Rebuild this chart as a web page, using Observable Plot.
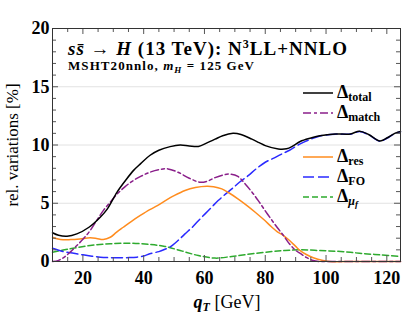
<!DOCTYPE html>
<html><head><meta charset="utf-8">
<script src="https://cdn.jsdelivr.net/npm/d3@7"></script>
<script src="https://cdn.jsdelivr.net/npm/@observablehq/plot@0.6"></script>
<style>body{margin:0;background:#fff} svg{display:block}</style>
</head><body><div id="chart"></div>
<script>
// ---- data ----
const qTotal = [10, 12, 14.8, 18, 22, 25.7, 28, 31.2, 34, 36.6, 39, 42, 45, 48.7, 52, 55, 58, 61, 63.5, 66, 69.4, 72, 75.6, 78, 80, 84.3, 87, 89, 91.5, 95, 98, 103, 108, 111, 114, 117.7, 120, 122.6, 124.5];
const total  = [2.47, 2.25, 2.17, 2.37, 2.94, 3.8, 4.5, 5.94, 6.95, 7.8, 8.4, 9.1, 9.55, 9.86, 10.0, 9.92, 9.88, 10.2, 10.5, 10.8, 11.0, 10.9, 10.5, 10.2, 9.95, 9.66, 9.68, 9.9, 10.3, 10.6, 10.8, 10.95, 10.95, 11.18, 10.9, 10.35, 10.6, 11.0, 11.15];

const qMatch = [10, 12, 14, 16, 18, 20, 22.4, 24.5, 26.7, 29, 31.3, 34, 36.6, 39, 42, 45, 48, 51.3, 55, 58.6, 61, 63.5, 66, 68.5, 71, 73.4, 75.5, 77.7, 80, 82.3, 84, 86, 88, 90, 91.5, 93.5, 95.8, 98, 100, 110, 124.5];
const match  = [0, 0.1, 0.4, 0.85, 1.37, 1.9, 2.66, 3.5, 4.37, 5.1, 5.8, 6.45, 6.95, 7.3, 7.66, 7.88, 7.95, 7.66, 7.15, 6.8, 6.9, 7.2, 7.42, 7.5, 7.3, 6.66, 6.0, 5.23, 4.35, 3.5, 2.9, 2.23, 1.5, 0.95, 0.7, 0.35, 0.08, 0, 0, 0, 0];

const qRes = [10, 11.5, 13.5, 16, 19, 22.4, 24.5, 26.7, 29, 31, 33.3, 36, 38.9, 42, 44.5, 47, 50, 53.6, 57, 60.8, 63, 65.7, 68, 71, 74, 76.7, 79.5, 82.2, 84, 86, 88, 90, 91.5, 93.5, 95.8, 99, 101, 110, 124.5];
const res  = [2.08, 1.95, 1.86, 1.88, 1.94, 2.03, 1.98, 1.89, 2.08, 2.5, 2.94, 3.45, 3.95, 4.45, 4.8, 5.2, 5.65, 6.1, 6.35, 6.46, 6.42, 6.23, 5.9, 5.38, 4.8, 4.23, 3.6, 2.94, 2.55, 2.23, 1.8, 1.3, 0.94, 0.6, 0.32, 0.08, 0, 0, 0];

const qFO = [10, 13.5, 17, 20, 23, 25.7, 28.5, 31.3, 34.5, 37.8, 40, 42, 45, 47, 48.7, 51.3, 53.5, 56, 58, 60.2, 62.5, 64.5, 67, 69, 71.5, 74.4, 77, 80, 83, 86, 88, 91.5, 95, 98, 103, 108, 111, 114, 117.7, 120, 122.6, 124.5];
const fo  = [1.14, 0.86, 0.7, 0.57, 0.45, 0.37, 0.33, 0.32, 0.33, 0.37, 0.48, 0.66, 0.85, 1.05, 1.25, 1.8, 2.35, 2.94, 3.5, 4.09, 4.7, 5.23, 5.8, 6.23, 6.8, 7.37, 7.95, 8.52, 8.9, 9.3, 9.55, 10.1, 10.5, 10.78, 10.93, 10.93, 11.15, 10.88, 10.33, 10.58, 10.98, 11.13];

const qMuF = [10, 15.8, 22.4, 29, 35.6, 42, 47, 52.7, 58, 63.5, 69, 75.7, 82.3, 86.5, 91.5, 98, 104.8, 111, 117.7, 124.5];
const muf  = [0.8, 1.09, 1.37, 1.52, 1.57, 1.46, 1.29, 0.89, 0.51, 0.29, 0.43, 0.66, 0.86, 0.94, 1.0, 0.94, 0.86, 0.71, 0.57, 0.43];

const xTickLabels = [20, 40, 60, 80, 100, 120];
const yTickLabels = [0, 5, 10, 15, 20];

// ---- styling ----
const series = [
  {key: "total", q: qTotal, v: total, color: "#000000", dash: null, sub: "total"},
  {key: "match", q: qMatch, v: match, color: "#8a1f8a", dash: "8,3,3,3", sub: "match"},
  {key: "res",   q: qRes,   v: res,   color: "#ff8c1e", dash: null, sub: "res"},
  {key: "FO",    q: qFO,    v: fo,    color: "#2a2aff", dash: "11,4", sub: "FO"},
  {key: "muf",   q: qMuF,   v: muf,   color: "#2eaa2e", dash: "6,3", sub: "mu"}
];
const drawOrder = ["muf", "FO", "res", "match", "total"];

const W = 407, H = 318, ML = 52, MR = 7, MT = 28, MB = 57;
const plotH = H - MT - MB, plotW = W - ML - MR;
const xMinor = d3.range(10, 125, 5).filter(d => !xTickLabels.includes(d));
const yMinor = d3.range(0, 21, 1).filter(d => !yTickLabels.includes(d));
const serif = "'Liberation Serif', serif";

const lineMarks = drawOrder.map(k => {
  const s = series.find(d => d.key === k);
  const rows = s.q.map((q, i) => ({q, v: s.v[i]}));
  return Plot.line(rows, {x: "q", y: "v", stroke: s.color, strokeWidth: 1.5,
    strokeDasharray: s.dash, curve: "catmull-rom"});
});

const tickStroke = "#555";
const plot = Plot.plot({
  width: W, height: H,
  marginLeft: ML, marginRight: MR, marginTop: MT, marginBottom: MB,
  x: {domain: [10, 124.5]},
  y: {domain: [0, 20]},
  style: {fontFamily: serif, background: "white", color: "#000"},
  marks: [
    Plot.ruleY([5, 10, 15], {stroke: "#e2e2e2", strokeWidth: 1}),
    ...lineMarks,
    Plot.tickX(xTickLabels, {x: d => d, insetTop: plotH - 6, stroke: tickStroke}),
    Plot.tickX(xTickLabels, {x: d => d, insetBottom: plotH - 6, stroke: tickStroke}),
    Plot.tickX(xMinor, {x: d => d, insetTop: plotH - 4, stroke: tickStroke}),
    Plot.tickX(xMinor, {x: d => d, insetBottom: plotH - 4, stroke: tickStroke}),
    Plot.tickY(yTickLabels, {y: d => d, insetRight: plotW - 6, stroke: tickStroke}),
    Plot.tickY(yTickLabels, {y: d => d, insetLeft: plotW - 6, stroke: tickStroke}),
    Plot.tickY(yMinor, {y: d => d, insetRight: plotW - 4, stroke: tickStroke}),
    Plot.tickY(yMinor, {y: d => d, insetLeft: plotW - 4, stroke: tickStroke}),
    Plot.axisX(xTickLabels, {tickSize: 0, tickPadding: 10, fontSize: 18, fontWeight: "bold", fontFamily: serif, label: null}),
    Plot.axisY(yTickLabels, {tickSize: 0, tickPadding: 3, fontSize: 18, fontWeight: "bold", fontFamily: serif, label: null}),
    Plot.frame({stroke: "#333", strokeWidth: 1})
  ]
});
document.getElementById("chart").appendChild(plot);

// ---- texts and legend ----
const svg = d3.select(plot);
const g = svg.append("g").attr("font-family", serif).attr("fill", "#000").attr("text-anchor", "start");

// title
const t = g.append("text").attr("x", 68).attr("y", 55).attr("font-size", 19).attr("font-weight", "bold")
  .attr("textLength", 279).attr("lengthAdjust", "spacing");
t.append("tspan").attr("font-style", "italic").text("ss\u0304");
t.append("tspan").text(" \u2192 ");
t.append("tspan").attr("font-style", "italic").text("H");
t.append("tspan").text(" (13 TeV): N");
t.append("tspan").attr("font-size", 12).attr("dy", -7).text("3");
t.append("tspan").attr("dy", 7).text("LL+NNLO");

// subtitle
const st = g.append("text").attr("x", 68).attr("y", 70).attr("font-size", 13).attr("font-weight", "bold")
  .attr("textLength", 186).attr("lengthAdjust", "spacing");
st.append("tspan").text("MSHT20nnlo, ");
st.append("tspan").attr("font-style", "italic").text("m");
st.append("tspan").attr("font-style", "italic").attr("font-size", 9).attr("dy", 2.5).text("H");
st.append("tspan").attr("dy", -2.5).text(" = 125 GeV");

// x label
const xl = g.append("text").attr("x", 227).attr("y", 308).attr("font-size", 18).attr("text-anchor", "middle");
xl.append("tspan").attr("font-style", "italic").attr("font-weight", "bold").text("q");
xl.append("tspan").attr("font-style", "italic").attr("font-weight", "bold").attr("font-size", 12).attr("dy", 3).text("T");
xl.append("tspan").attr("dy", -3).text(" [GeV]");

// y label
g.append("text").attr("transform", "translate(18,145) rotate(-90)").attr("font-size", 17)
  .attr("text-anchor", "middle").text("rel. variations [%]");

// legend
const legendY = {total: 93, match: 113, res: 157, FO: 177, muf: 197};
series.forEach(s => {
  const y = legendY[s.key];
  g.append("line").attr("x1", 303).attr("x2", 333).attr("y1", y).attr("y2", y)
    .attr("stroke", s.color).attr("stroke-width", 1.5).attr("stroke-dasharray", s.dash);
  const lt = g.append("text").attr("x", 337).attr("y", y + 5).attr("font-size", 18).attr("font-weight", "bold");
  lt.append("tspan").text("\u0394");
  if (s.key === "muf") {
    lt.append("tspan").attr("font-size", 12).attr("font-style", "italic").attr("dy", 3).text("\u03bc");
    lt.append("tspan").attr("font-size", 9).attr("font-style", "italic").attr("dy", 2).text("f");
  } else {
    lt.append("tspan").attr("font-size", 12).attr("dy", 2.5).text(s.sub);
  }
});
</script>
</body></html>
